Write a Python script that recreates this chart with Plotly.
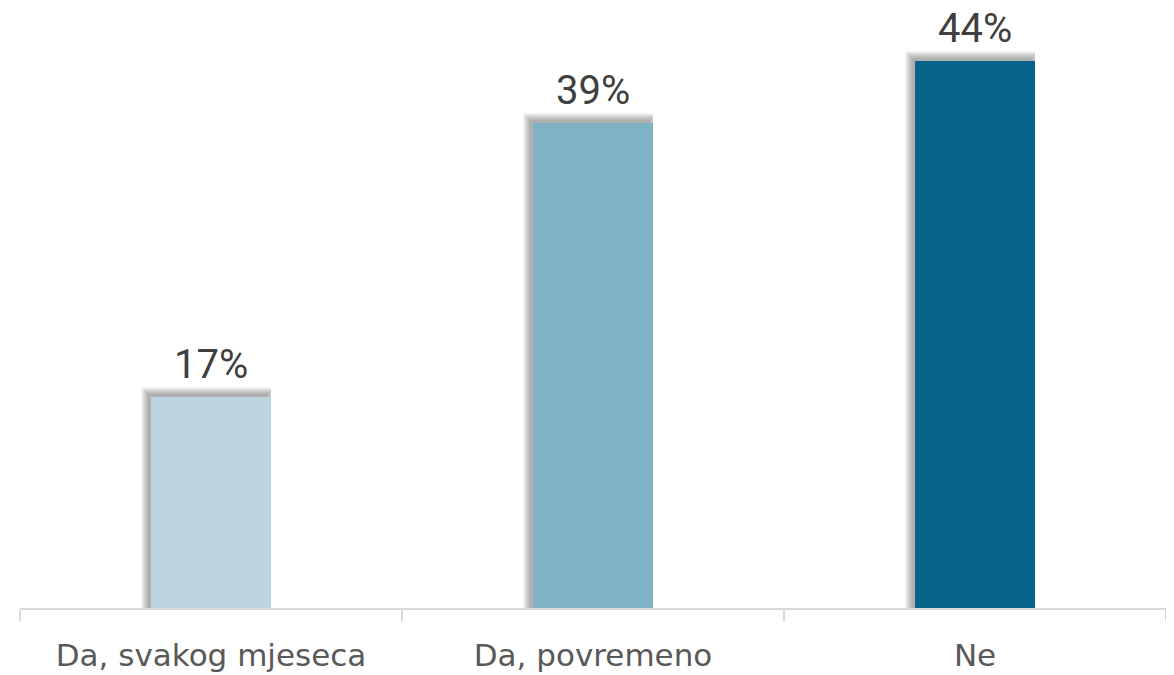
import plotly.graph_objects as go

categories = ["Da, svakog mjeseca", "Da, povremeno", "Ne"]
values = [17, 39, 44]
labels = ["17%", "39%", "44%"]
colors = ["#BCD5E0", "#7FB3C3", "#05638A"]

# page body has an 8px default margin, so the figure is sized to fit inside
W, H = 1166, 667
ml, mr, mt, mb = 12, 8, 0, 67
plot_w = W - ml - mr
plot_h = H - mt - mb
ymax = 48.27
px_x = 3 / plot_w          # category units per pixel
px_y = ymax / plot_h       # value units per pixel
bw = 0.314

fig = go.Figure()

# soft drop shadow (up-left), built from layered translucent bars
dx, dy = 3, 3
for e in range(7, -1, -1):
    right_ext = min(e, dx)
    fig.add_trace(go.Bar(
        x=categories,
        y=[v + (dy + e) * px_y for v in values],
        width=bw + (e + right_ext) * px_x,
        offset=-bw / 2 - (dx + e) * px_x,
        marker=dict(color="rgba(0,0,0,0.045)", line=dict(width=0)),
        hoverinfo="skip",
        showlegend=False,
    ))

fig.add_trace(go.Bar(
    x=categories,
    y=values,
    width=bw,
    offset=-bw / 2,
    marker=dict(color=colors, line=dict(width=0)),
    showlegend=False,
))

for c, v, t in zip(categories, values, labels):
    fig.add_annotation(
        x=c, y=v, text=t, showarrow=False,
        yanchor="bottom", yshift=14, height=34, valign="middle",
        font=dict(family="Roboto", size=40, color="#404040"),
    )

fig.update_layout(
    width=W, height=H,
    margin=dict(l=ml, r=mr, t=mt, b=mb),
    paper_bgcolor="white",
    plot_bgcolor="white",
    barmode="overlay",
    bargap=0,
    xaxis=dict(
        range=[-0.5, 2.5],
        automargin=False,
        showline=True, linecolor="#D9D9D9", linewidth=1.5,
        ticks="outside", tickson="boundaries", ticklen=11,
        tickcolor="#D9D9D9", tickwidth=1.5,
        ticklabelstandoff=19,
        tickfont=dict(family="DejaVu Sans", size=31, color="#595959"),
        showgrid=False, zeroline=False,
    ),
    yaxis=dict(range=[0, ymax], visible=False, showgrid=False, zeroline=False,
               automargin=False),
)

fig.write_html("out.html")
